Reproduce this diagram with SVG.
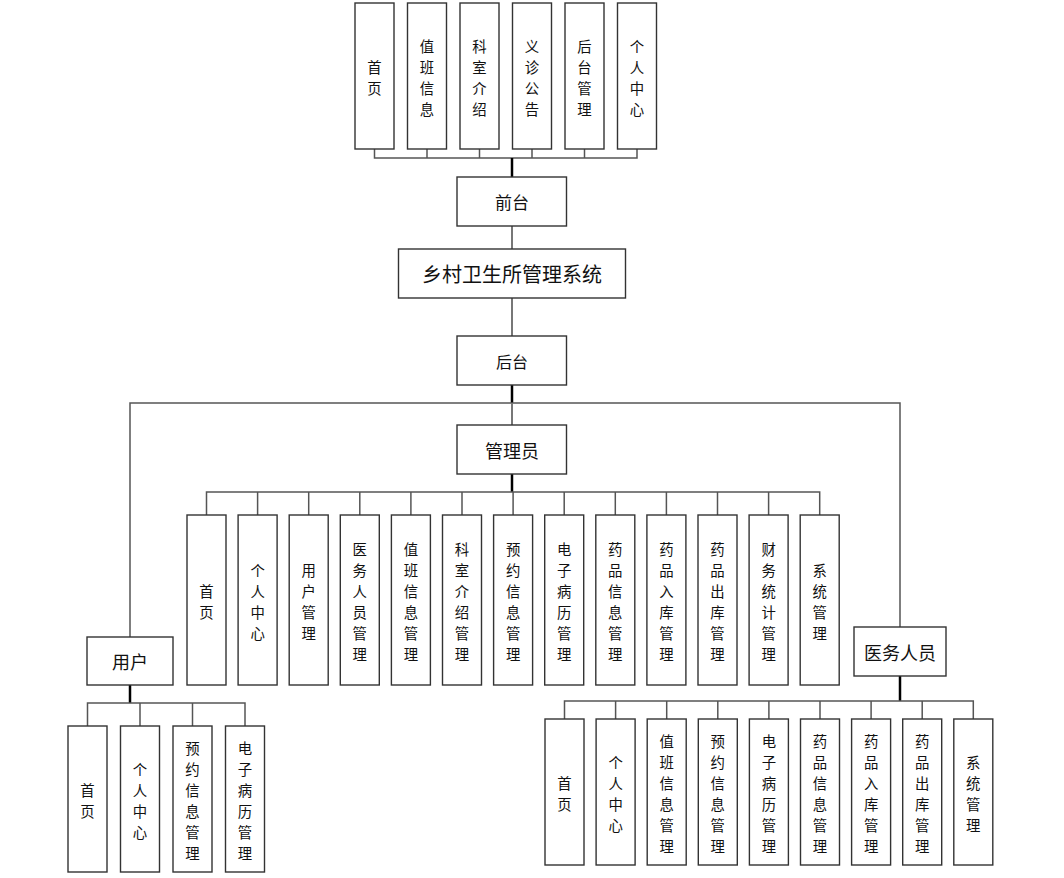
<svg xmlns="http://www.w3.org/2000/svg" width="1064" height="878" viewBox="0 0 1064 878">
<style>
.b{fill:#fff;stroke:#333;stroke-width:1.4}
.t{font-family:"Noto Sans CJK SC","Noto Sans",sans-serif;fill:#111;text-anchor:middle;dominant-baseline:central}
.v{font-size:14.4px}
.c line,.c polyline{stroke:#555;stroke-width:1.5;fill:none}
.c .k{stroke:#000;stroke-width:2.5}
.c .g{stroke:#777;stroke-width:2}
</style>
<rect width="1064" height="878" fill="#fff"/>
<g id="connectors" class="c">
<polyline points="374.5,149 374.5,158 637,158 637,149"/>
<line x1="427" y1="149" x2="427" y2="158"/>
<line x1="479.5" y1="149" x2="479.5" y2="158"/>
<line x1="532" y1="149" x2="532" y2="158"/>
<line x1="584.5" y1="149" x2="584.5" y2="158"/>
<line class="k" x1="512" y1="158" x2="512" y2="177"/>
<line class="g" x1="512" y1="226" x2="512" y2="249"/>
<line class="g" x1="512" y1="298" x2="512" y2="336"/>
<line class="k" x1="512" y1="385" x2="512" y2="403"/>
<polyline points="130,637 130,403 900,403 900,627"/>
<line class="g" x1="512" y1="403" x2="512" y2="425"/>
<line class="k" x1="512" y1="474" x2="512" y2="492"/>
<polyline points="206.5,515 206.5,492 819.7,492 819.7,515"/>
<line x1="257.6" y1="492" x2="257.6" y2="515"/>
<line x1="308.7" y1="492" x2="308.7" y2="515"/>
<line x1="359.8" y1="492" x2="359.8" y2="515"/>
<line x1="410.9" y1="492" x2="410.9" y2="515"/>
<line x1="462" y1="492" x2="462" y2="515"/>
<line x1="513.1" y1="492" x2="513.1" y2="515"/>
<line x1="564.2" y1="492" x2="564.2" y2="515"/>
<line x1="615.3" y1="492" x2="615.3" y2="515"/>
<line x1="666.4" y1="492" x2="666.4" y2="515"/>
<line x1="717.5" y1="492" x2="717.5" y2="515"/>
<line x1="768.6" y1="492" x2="768.6" y2="515"/>
<line class="k" x1="130" y1="685" x2="130" y2="703"/>
<polyline points="87.5,726 87.5,703 245,703 245,726"/>
<line x1="140" y1="703" x2="140" y2="726"/>
<line x1="192.5" y1="703" x2="192.5" y2="726"/>
<line class="k" x1="900" y1="676" x2="900" y2="701"/>
<polyline points="564.5,719 564.5,701 973.3,701 973.3,719"/>
<line x1="615.6" y1="701" x2="615.6" y2="719"/>
<line x1="666.7" y1="701" x2="666.7" y2="719"/>
<line x1="717.8" y1="701" x2="717.8" y2="719"/>
<line x1="768.9" y1="701" x2="768.9" y2="719"/>
<line x1="820" y1="701" x2="820" y2="719"/>
<line x1="871.1" y1="701" x2="871.1" y2="719"/>
<line x1="922.2" y1="701" x2="922.2" y2="719"/>
</g>

<!-- top front-end nodes -->
<g id="f1"><rect class="b" x="355" y="3" width="39" height="146"/><text class="t v"><tspan x="374.5" y="65.5">首</tspan><tspan x="374.5" y="86.5">页</tspan></text></g>
<g id="f2"><rect class="b" x="407.5" y="3" width="39" height="146"/><text class="t v"><tspan x="427" y="44.5">值</tspan><tspan x="427" y="65.5">班</tspan><tspan x="427" y="86.5">信</tspan><tspan x="427" y="107.5">息</tspan></text></g>
<g id="f3"><rect class="b" x="460" y="3" width="39" height="146"/><text class="t v"><tspan x="479.5" y="44.5">科</tspan><tspan x="479.5" y="65.5">室</tspan><tspan x="479.5" y="86.5">介</tspan><tspan x="479.5" y="107.5">绍</tspan></text></g>
<g id="f4"><rect class="b" x="512.5" y="3" width="39" height="146"/><text class="t v"><tspan x="532" y="44.5">义</tspan><tspan x="532" y="65.5">诊</tspan><tspan x="532" y="86.5">公</tspan><tspan x="532" y="107.5">告</tspan></text></g>
<g id="f5"><rect class="b" x="565" y="3" width="39" height="146"/><text class="t v"><tspan x="584.5" y="44.5">后</tspan><tspan x="584.5" y="65.5">台</tspan><tspan x="584.5" y="86.5">管</tspan><tspan x="584.5" y="107.5">理</tspan></text></g>
<g id="f6"><rect class="b" x="617.5" y="3" width="39" height="146"/><text class="t v"><tspan x="637" y="44.5">个</tspan><tspan x="637" y="65.5">人</tspan><tspan x="637" y="86.5">中</tspan><tspan x="637" y="107.5">心</tspan></text></g>

<g id="qiantai"><rect class="b" x="457" y="177" width="109.5" height="49"/><text class="t" x="512" y="201.5" font-size="17">前台</text></g>
<g id="system"><rect class="b" x="398.5" y="249" width="227" height="49"/><text class="t" x="512" y="273" font-size="20">乡村卫生所管理系统</text></g>
<g id="houtai"><rect class="b" x="457" y="336" width="109.5" height="49"/><text class="t" x="512" y="360.5" font-size="16">后台</text></g>
<g id="admin"><rect class="b" x="457" y="425" width="109.5" height="49"/><text class="t" x="512" y="449.5" font-size="18">管理员</text></g>
<g id="user"><rect class="b" x="87" y="637" width="86" height="48"/><text class="t" x="130" y="661" font-size="18">用户</text></g>
<g id="medic"><rect class="b" x="854" y="627" width="92" height="49"/><text class="t" x="900" y="651.5" font-size="18">医务人员</text></g>

<!-- admin children -->
<g id="a1"><rect class="b" x="187" y="515" width="39" height="170"/><text class="t v"><tspan x="206.5" y="589.5">首</tspan><tspan x="206.5" y="610.5">页</tspan></text></g>
<g id="a2"><rect class="b" x="238.1" y="515" width="39" height="170"/><text class="t v"><tspan x="257.6" y="568.5">个</tspan><tspan x="257.6" y="589.5">人</tspan><tspan x="257.6" y="610.5">中</tspan><tspan x="257.6" y="631.5">心</tspan></text></g>
<g id="a3"><rect class="b" x="289.2" y="515" width="39" height="170"/><text class="t v"><tspan x="308.7" y="568.5">用</tspan><tspan x="308.7" y="589.5">户</tspan><tspan x="308.7" y="610.5">管</tspan><tspan x="308.7" y="631.5">理</tspan></text></g>
<g id="a4"><rect class="b" x="340.3" y="515" width="39" height="170"/><text class="t v"><tspan x="359.8" y="547.5">医</tspan><tspan x="359.8" y="568.5">务</tspan><tspan x="359.8" y="589.5">人</tspan><tspan x="359.8" y="610.5">员</tspan><tspan x="359.8" y="631.5">管</tspan><tspan x="359.8" y="652.5">理</tspan></text></g>
<g id="a5"><rect class="b" x="391.4" y="515" width="39" height="170"/><text class="t v"><tspan x="410.9" y="547.5">值</tspan><tspan x="410.9" y="568.5">班</tspan><tspan x="410.9" y="589.5">信</tspan><tspan x="410.9" y="610.5">息</tspan><tspan x="410.9" y="631.5">管</tspan><tspan x="410.9" y="652.5">理</tspan></text></g>
<g id="a6"><rect class="b" x="442.5" y="515" width="39" height="170"/><text class="t v"><tspan x="462" y="547.5">科</tspan><tspan x="462" y="568.5">室</tspan><tspan x="462" y="589.5">介</tspan><tspan x="462" y="610.5">绍</tspan><tspan x="462" y="631.5">管</tspan><tspan x="462" y="652.5">理</tspan></text></g>
<g id="a7"><rect class="b" x="493.6" y="515" width="39" height="170"/><text class="t v"><tspan x="513.1" y="547.5">预</tspan><tspan x="513.1" y="568.5">约</tspan><tspan x="513.1" y="589.5">信</tspan><tspan x="513.1" y="610.5">息</tspan><tspan x="513.1" y="631.5">管</tspan><tspan x="513.1" y="652.5">理</tspan></text></g>
<g id="a8"><rect class="b" x="544.7" y="515" width="39" height="170"/><text class="t v"><tspan x="564.2" y="547.5">电</tspan><tspan x="564.2" y="568.5">子</tspan><tspan x="564.2" y="589.5">病</tspan><tspan x="564.2" y="610.5">历</tspan><tspan x="564.2" y="631.5">管</tspan><tspan x="564.2" y="652.5">理</tspan></text></g>
<g id="a9"><rect class="b" x="595.8" y="515" width="39" height="170"/><text class="t v"><tspan x="615.3" y="547.5">药</tspan><tspan x="615.3" y="568.5">品</tspan><tspan x="615.3" y="589.5">信</tspan><tspan x="615.3" y="610.5">息</tspan><tspan x="615.3" y="631.5">管</tspan><tspan x="615.3" y="652.5">理</tspan></text></g>
<g id="a10"><rect class="b" x="646.9" y="515" width="39" height="170"/><text class="t v"><tspan x="666.4" y="547.5">药</tspan><tspan x="666.4" y="568.5">品</tspan><tspan x="666.4" y="589.5">入</tspan><tspan x="666.4" y="610.5">库</tspan><tspan x="666.4" y="631.5">管</tspan><tspan x="666.4" y="652.5">理</tspan></text></g>
<g id="a11"><rect class="b" x="698" y="515" width="39" height="170"/><text class="t v"><tspan x="717.5" y="547.5">药</tspan><tspan x="717.5" y="568.5">品</tspan><tspan x="717.5" y="589.5">出</tspan><tspan x="717.5" y="610.5">库</tspan><tspan x="717.5" y="631.5">管</tspan><tspan x="717.5" y="652.5">理</tspan></text></g>
<g id="a12"><rect class="b" x="749.1" y="515" width="39" height="170"/><text class="t v"><tspan x="768.6" y="547.5">财</tspan><tspan x="768.6" y="568.5">务</tspan><tspan x="768.6" y="589.5">统</tspan><tspan x="768.6" y="610.5">计</tspan><tspan x="768.6" y="631.5">管</tspan><tspan x="768.6" y="652.5">理</tspan></text></g>
<g id="a13"><rect class="b" x="800.2" y="515" width="39" height="170"/><text class="t v"><tspan x="819.7" y="568.5">系</tspan><tspan x="819.7" y="589.5">统</tspan><tspan x="819.7" y="610.5">管</tspan><tspan x="819.7" y="631.5">理</tspan></text></g>

<!-- user children -->
<g id="u1"><rect class="b" x="68" y="726" width="39" height="146"/><text class="t v"><tspan x="87.5" y="788.5">首</tspan><tspan x="87.5" y="809.5">页</tspan></text></g>
<g id="u2"><rect class="b" x="120.5" y="726" width="39" height="146"/><text class="t v"><tspan x="140" y="767.5">个</tspan><tspan x="140" y="788.5">人</tspan><tspan x="140" y="809.5">中</tspan><tspan x="140" y="830.5">心</tspan></text></g>
<g id="u3"><rect class="b" x="173" y="726" width="39" height="146"/><text class="t v"><tspan x="192.5" y="746.5">预</tspan><tspan x="192.5" y="767.5">约</tspan><tspan x="192.5" y="788.5">信</tspan><tspan x="192.5" y="809.5">息</tspan><tspan x="192.5" y="830.5">管</tspan><tspan x="192.5" y="851.5">理</tspan></text></g>
<g id="u4"><rect class="b" x="225.5" y="726" width="39" height="146"/><text class="t v"><tspan x="245" y="746.5">电</tspan><tspan x="245" y="767.5">子</tspan><tspan x="245" y="788.5">病</tspan><tspan x="245" y="809.5">历</tspan><tspan x="245" y="830.5">管</tspan><tspan x="245" y="851.5">理</tspan></text></g>

<!-- medical staff children -->
<g id="m1"><rect class="b" x="545" y="719" width="39" height="146"/><text class="t v"><tspan x="564.5" y="781.5">首</tspan><tspan x="564.5" y="802.5">页</tspan></text></g>
<g id="m2"><rect class="b" x="596.1" y="719" width="39" height="146"/><text class="t v"><tspan x="615.6" y="760.5">个</tspan><tspan x="615.6" y="781.5">人</tspan><tspan x="615.6" y="802.5">中</tspan><tspan x="615.6" y="823.5">心</tspan></text></g>
<g id="m3"><rect class="b" x="647.2" y="719" width="39" height="146"/><text class="t v"><tspan x="666.7" y="739.5">值</tspan><tspan x="666.7" y="760.5">班</tspan><tspan x="666.7" y="781.5">信</tspan><tspan x="666.7" y="802.5">息</tspan><tspan x="666.7" y="823.5">管</tspan><tspan x="666.7" y="844.5">理</tspan></text></g>
<g id="m4"><rect class="b" x="698.3" y="719" width="39" height="146"/><text class="t v"><tspan x="717.8" y="739.5">预</tspan><tspan x="717.8" y="760.5">约</tspan><tspan x="717.8" y="781.5">信</tspan><tspan x="717.8" y="802.5">息</tspan><tspan x="717.8" y="823.5">管</tspan><tspan x="717.8" y="844.5">理</tspan></text></g>
<g id="m5"><rect class="b" x="749.4" y="719" width="39" height="146"/><text class="t v"><tspan x="768.9" y="739.5">电</tspan><tspan x="768.9" y="760.5">子</tspan><tspan x="768.9" y="781.5">病</tspan><tspan x="768.9" y="802.5">历</tspan><tspan x="768.9" y="823.5">管</tspan><tspan x="768.9" y="844.5">理</tspan></text></g>
<g id="m6"><rect class="b" x="800.5" y="719" width="39" height="146"/><text class="t v"><tspan x="820" y="739.5">药</tspan><tspan x="820" y="760.5">品</tspan><tspan x="820" y="781.5">信</tspan><tspan x="820" y="802.5">息</tspan><tspan x="820" y="823.5">管</tspan><tspan x="820" y="844.5">理</tspan></text></g>
<g id="m7"><rect class="b" x="851.6" y="719" width="39" height="146"/><text class="t v"><tspan x="871.1" y="739.5">药</tspan><tspan x="871.1" y="760.5">品</tspan><tspan x="871.1" y="781.5">入</tspan><tspan x="871.1" y="802.5">库</tspan><tspan x="871.1" y="823.5">管</tspan><tspan x="871.1" y="844.5">理</tspan></text></g>
<g id="m8"><rect class="b" x="902.7" y="719" width="39" height="146"/><text class="t v"><tspan x="922.2" y="739.5">药</tspan><tspan x="922.2" y="760.5">品</tspan><tspan x="922.2" y="781.5">出</tspan><tspan x="922.2" y="802.5">库</tspan><tspan x="922.2" y="823.5">管</tspan><tspan x="922.2" y="844.5">理</tspan></text></g>
<g id="m9"><rect class="b" x="953.8" y="719" width="39" height="146"/><text class="t v"><tspan x="973.3" y="760.5">系</tspan><tspan x="973.3" y="781.5">统</tspan><tspan x="973.3" y="802.5">管</tspan><tspan x="973.3" y="823.5">理</tspan></text></g>
</svg>
